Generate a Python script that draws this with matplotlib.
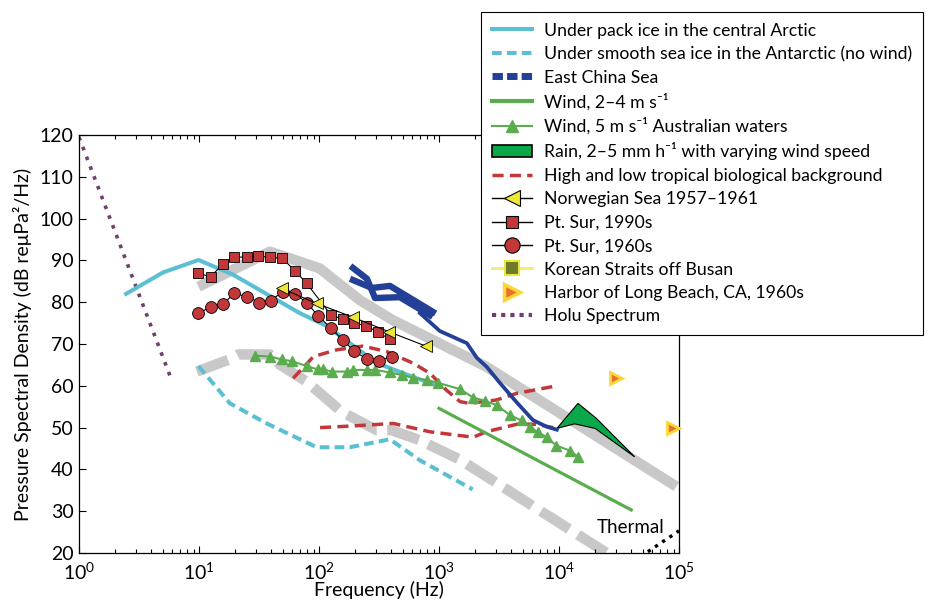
import numpy as np
import matplotlib
matplotlib.use("Agg")
import matplotlib.pyplot as plt
from matplotlib.lines import Line2D
from matplotlib.patches import Patch

plt.rcParams['font.family'] = ['Lato', 'DejaVu Sans']
plt.rcParams['mathtext.fontset'] = 'custom'
plt.rcParams['mathtext.rm'] = 'Lato'
plt.rcParams['mathtext.it'] = 'Lato:italic'
plt.rcParams['mathtext.bf'] = 'Lato:bold'

# ---- data (Hz, dB) ----
arctic_f = [2.47, 5.0, 9.9, 19.2, 69, 116, 305, 610, 970]
arctic_db = [82.0, 87.1, 90.1, 86.6, 77.4, 74.3, 65.4, 62.1, 60.0]

antarctic_f = [9.9, 18.1, 36.6, 95.6, 181, 389, 692, 1910]
antarctic_db = [64.7, 55.8, 51.0, 45.3, 45.3, 47.2, 42.2, 35.2]

grey_hi_f = [9.9, 39, 101, 219, 412, 2470, 95000]
grey_hi_db = [83.7, 92.1, 88.1, 80.5, 75.7, 64.6, 35.9]

grey_lo_f = [9.6, 17.5, 21.2, 39, 47, 79, 154, 302, 400, 690, 1500, 25000]
grey_lo_db = [63.4, 66.2, 67.5, 67.5, 65.1, 61.0, 53.8, 49.4, 49.4, 47.0, 42.3, 20.0]

ecs1_f = [192, 251, 293, 472, 839]
ecs1_db = [88.2, 85.6, 81.0, 81.2, 76.9]
ecs2_f = [192, 276, 390, 889]
ecs2_db = [85.3, 83.4, 83.9, 77.7]
ecs3_f = [693, 1016, 1706, 2066, 2504, 3215, 4454, 6058, 7918, 9590]
ecs3_db = [77.4, 73.1, 70.2, 66.7, 64.5, 60.7, 56.0, 51.8, 50.2, 49.5]

wind24_f = [1000, 40000]
wind24_db = [54.6, 30.3]

aus_f = [29.4, 39.2, 48.9, 59.3, 79, 98.7, 109, 128, 170, 192, 250, 293, 390,
         488, 610, 788, 985, 1493, 1928, 2412, 3019, 3893, 4870, 5715, 6700,
         7870, 9530, 12300, 14400]
aus_db = [67.2, 67.0, 66.3, 65.9, 64.7, 63.9, 63.9, 63.4, 63.4, 63.8, 63.8, 63.8,
          63.2, 62.6, 61.9, 61.4, 60.7, 59.2, 57.2, 56.4, 55.4, 53.0, 51.7, 50.1,
          48.9, 47.7, 45.7, 44.5, 43.0]

rain_f = [9600, 14400, 20500, 42700, 20000, 13500]
rain_db = [49.8, 55.8, 52.2, 43.0, 49.8, 50.9]

bio_hi_f = [61, 90, 140, 233, 365, 610, 840, 1150, 1500, 1800, 3000, 4450, 9600]
bio_hi_db = [61.8, 67.0, 68.6, 69.5, 68.2, 65.4, 63.0, 59.0, 56.2, 55.8, 56.6, 58.2, 60.0]
bio_lo_f = [102, 192, 415, 840, 1930, 2470, 4450, 6470, 9600]
bio_lo_db = [50.0, 50.4, 51.0, 49.0, 47.7, 49.0, 50.8, 50.8, 49.8]

norw_f = [48.9, 95.6, 192, 385, 777]
norw_db = [83.3, 79.7, 76.4, 72.9, 69.5]

sur90_f = [9.9, 12.5, 15.8, 19.7, 25, 31.1, 39, 49.5, 63, 79, 126, 157, 197, 245, 312, 390]
sur90_db = [86.9, 86.1, 89.1, 90.9, 90.7, 91.1, 90.7, 90.5, 87.5, 84.5, 76.9, 76.0,
            75.0, 74.4, 72.8, 71.1]

sur60_f = [9.9, 12.5, 15.8, 19.7, 25.3, 31.6, 39.6, 49.9, 63, 79, 98.6, 126, 157,
           197, 250, 315, 405]
sur60_db = [77.3, 78.9, 79.5, 82.1, 81.3, 79.9, 80.4, 82.5, 82.0, 79.9, 76.7, 73.8,
            71.0, 68.3, 66.4, 66.0, 67.0]

lb_f = [30000, 89000]
lb_db = [61.8, 49.8]

holu_f = [1.0, 5.8]
holu_db = [119.5, 62.0]

thermal_f = [55000, 100000]
thermal_db = [20.3, 25.3]

# ---- colours ----
cyan = '#5bbfd3'
grey = '#c8c8c8'
blue = '#233f96'
green = '#5aac4f'
rain_green = '#0ba84a'
red = '#c1373a'
yellow = '#ece83a'
purple = '#6e3f6e'

fig = plt.figure(figsize=(9.28, 6.03), dpi=100)
ax = fig.add_axes([79 / 928, 50 / 603, 600 / 928, 418 / 603])

# grey reference bands
ax.plot(grey_hi_f, grey_hi_db, color=grey, lw=7.5, solid_capstyle='butt', zorder=1)
l, = ax.plot(grey_lo_f, grey_lo_db, color=grey, lw=7.5, zorder=1)
l.set_dashes([3.2, 1.0])

ax.plot(holu_f, holu_db, color=purple, lw=2.6, ls=(0, (1, 1.9)), zorder=2)
ax.plot(thermal_f, thermal_db, color='black', lw=2.4, ls=(0, (1, 1.6)), zorder=2, clip_on=False)

ax.plot(arctic_f, arctic_db, color=cyan, lw=2.9, zorder=3)
l, = ax.plot(antarctic_f, antarctic_db, color=cyan, lw=2.9, zorder=3)
l.set_dashes([2.4, 1.3])

ax.plot(bio_hi_f, bio_hi_db, color=red, lw=2.5, ls=(0, (3.2, 1.8)), zorder=3)
ax.plot(bio_lo_f, bio_lo_db, color=red, lw=2.5, ls=(0, (3.2, 1.8)), zorder=3)

ax.plot(wind24_f, wind24_db, color=green, lw=2.3, zorder=3)
ax.plot(aus_f, aus_db, color=green, lw=1.5, marker='^', ms=6.5, mec=green, zorder=3)

ax.fill(rain_f, rain_db, facecolor=rain_green, edgecolor='black', lw=0.8, zorder=4)

ax.plot(ecs1_f, ecs1_db, color=blue, lw=4.6, zorder=4)
ax.plot(ecs2_f, ecs2_db, color=blue, lw=4.6, zorder=4)
ax.plot(ecs3_f, ecs3_db, color=blue, lw=2.7, zorder=4)

ax.plot(sur90_f, sur90_db, color='black', lw=0.8, marker='s', ms=6.5,
        mfc=red, mec='black', mew=0.6, zorder=5)
ax.plot(sur60_f, sur60_db, color='black', lw=0.8, marker='o', ms=8.5,
        mfc=red, mec='black', mew=0.6, zorder=5)
ax.plot(norw_f, norw_db, color='black', lw=0.8, marker='<', ms=9,
        mfc=yellow, mec='black', mew=0.6, zorder=6)

ax.plot(lb_f, lb_db, ls='none', marker='>', ms=8, mfc='#e8702c', mec='#fbd83a',
        mew=2, zorder=6, clip_on=False)

ax.text(20500, 26, 'Thermal', fontsize=13.5, va='center', ha='left')

ax.set_xscale('log')
ax.set_xlim(1, 1e5)
ax.set_ylim(20, 120)
ax.set_yticks(np.arange(20, 121, 10))
ax.tick_params(which='both', direction='in', top=True, right=False, labelsize=14,
               width=0.8)
ax.tick_params(which='major', length=5)
ax.tick_params(which='minor', length=3)
ax.tick_params(axis='x', pad=6)
ax.tick_params(axis='y', pad=4)
for s in ax.spines.values():
    s.set_linewidth(0.9)
ax.set_xlabel('Frequency (Hz)', fontsize=14, labelpad=-1)
ax.set_ylabel('Pressure Spectral Density (dB re\u03bcPa\u00b2/Hz)', fontsize=14, labelpad=5)

# legend with proxy handles
handles = [
    Line2D([], [], color=cyan, lw=2.9),
    Line2D([], [], color=cyan, lw=2.9, dashes=[2.4, 1.3]),
    Line2D([], [], color=blue, lw=5, dashes=[1.5, 0.6]),
    Line2D([], [], color=green, lw=3),
    Line2D([], [], color=green, lw=1.5, marker='^', ms=8),
    Patch(facecolor=rain_green, edgecolor='black', lw=1.2),
    Line2D([], [], color=red, lw=2.5, dashes=[3.2, 1.8]),
    Line2D([], [], color='black', lw=1, marker='<', ms=11, mfc=yellow, mec='black', mew=0.8),
    Line2D([], [], color='black', lw=1, marker='s', ms=9, mfc=red, mec='black', mew=0.8),
    Line2D([], [], color='black', lw=1, marker='o', ms=11, mfc=red, mec='black', mew=0.8),
    Line2D([], [], color='#f0ee6a', lw=2, marker='s', ms=10, mfc='#6b7a2b', mec='#ece53a', mew=1.5),
    Line2D([], [], ls='none', marker='>', ms=11, mfc='#e8702c', mec='#fbd83a', mew=2.5),
    Line2D([], [], color=purple, lw=3, ls=(0, (1, 1.2))),
]
labels = [
    'Under pack ice in the central Arctic',
    'Under smooth sea ice in the Antarctic (no wind)',
    'East China Sea',
    'Wind, 2\u20134 m s\u207b\u00b9',
    'Wind, 5 m s\u207b\u00b9 Australian waters',
    'Rain, 2\u20135 mm h\u207b\u00b9 with varying wind speed',
    'High and low tropical biological background',
    'Norwegian Sea 1957\u20131961',
    'Pt. Sur, 1990s',
    'Pt. Sur, 1960s',
    'Korean Straits off Busan',
    'Harbor of Long Beach, CA, 1960s',
    'Holu Spectrum',
]
leg = ax.legend(handles, labels, loc='upper left', bbox_to_anchor=(481 / 928, 1 - 12 / 603),
                bbox_transform=fig.transFigure, fontsize=12.7, frameon=True, fancybox=False,
                edgecolor='black', framealpha=1, handlelength=2.3, handletextpad=0.7,
                labelspacing=0.42, borderpad=0.6, borderaxespad=0)
leg.get_frame().set_linewidth(0.8)
leg.set_zorder(10)

fig.savefig('out.png', dpi=100)
